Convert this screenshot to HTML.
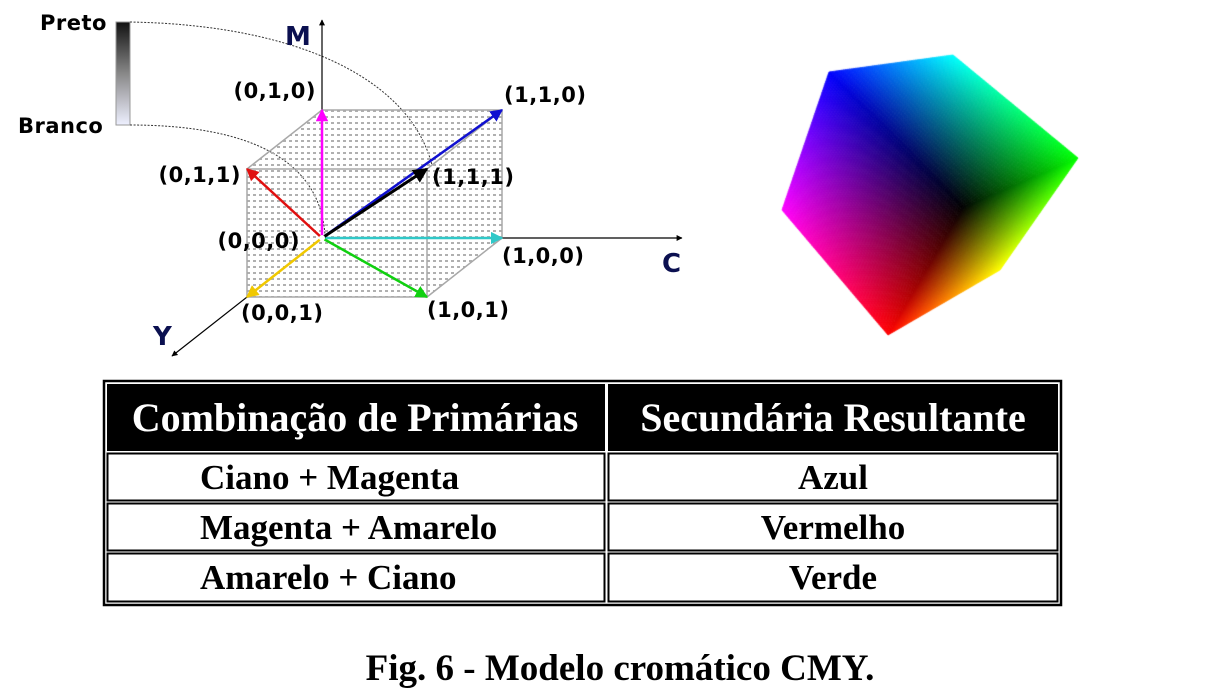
<!DOCTYPE html>
<html><head><meta charset="utf-8"><style>
html,body{margin:0;padding:0;background:#fff;}
svg{display:block;position:absolute;left:0;top:0;}
canvas{position:absolute;left:0;top:0;}
.lbl{font-family:"DejaVu Sans","Liberation Sans",sans-serif;font-weight:bold;font-size:21px;fill:#000;letter-spacing:0.5px;}
.ax{font-family:"DejaVu Sans","Liberation Sans",sans-serif;font-weight:bold;font-size:26px;fill:#0b1050;}
.th{font-family:"Liberation Serif",serif;font-weight:bold;font-size:40px;fill:#fff;}
.td{font-family:"Liberation Serif",serif;font-weight:bold;font-size:35px;fill:#000;}
</style></head><body>
<div style="position:relative;width:1209px;height:697px;overflow:hidden">
<canvas id="cv" width="1209" height="697"></canvas>
<svg id="fig" width="1209" height="697" viewBox="0 0 1209 697" xmlns="http://www.w3.org/2000/svg">
<defs>
<pattern id="dots" width="6" height="6" patternUnits="userSpaceOnUse"><rect x="1" y="2" width="3" height="2" fill="#b0b0b0"/></pattern>
<linearGradient id="gbar" x1="0" y1="0" x2="0" y2="1"><stop offset="0" stop-color="#111"/><stop offset="0.5" stop-color="#888"/><stop offset="1" stop-color="#eef0ff"/></linearGradient>
<marker id="ah" viewBox="0 0 10 10" refX="9" refY="5" markerWidth="5" markerHeight="5" orient="auto-start-reverse"><path d="M0,0 L10,5 L0,10 z" fill="context-stroke"/></marker>
</defs>

<rect x="116" y="22" width="14" height="103" fill="url(#gbar)" stroke="#999" stroke-width="1"/>
<text class="lbl" x="40" y="30">Preto</text>
<text class="lbl" x="18" y="133">Branco</text>
<path d="M130,22 C300,25 410,80 432,165" fill="none" stroke="#333" stroke-width="1" stroke-dasharray="2,1.5"/>
<path d="M130,125 C250,125 320,160 325,235" fill="none" stroke="#333" stroke-width="1" stroke-dasharray="2,1.5"/>

<g id="cube3d"></g>

<g>
<rect x="104" y="381" width="957" height="224" fill="none" stroke="#000" stroke-width="2.5"/>
<rect x="107" y="384" width="498" height="67" fill="#000"/>
<rect x="608" y="384" width="450" height="67" fill="#000"/>
<text class="th" x="355" y="431" text-anchor="middle">Combinação de Primárias</text>
<text class="th" x="833" y="431" text-anchor="middle">Secundária Resultante</text>
<rect x="107.5" y="453.5" width="497" height="47" fill="none" stroke="#000" stroke-width="2"/>
<rect x="608.5" y="453.5" width="449" height="47" fill="none" stroke="#000" stroke-width="2"/>
<rect x="107.5" y="503.5" width="497" height="47" fill="none" stroke="#000" stroke-width="2"/>
<rect x="608.5" y="503.5" width="449" height="47" fill="none" stroke="#000" stroke-width="2"/>
<rect x="107.5" y="553.5" width="497" height="48" fill="none" stroke="#000" stroke-width="2"/>
<rect x="608.5" y="553.5" width="449" height="48" fill="none" stroke="#000" stroke-width="2"/>
<text class="td" x="200" y="489">Ciano + Magenta</text>
<text class="td" x="833" y="489" text-anchor="middle">Azul</text>
<text class="td" x="200" y="539">Magenta + Amarelo</text>
<text class="td" x="833" y="539" text-anchor="middle">Vermelho</text>
<text class="td" x="200" y="589">Amarelo + Ciano</text>
<text class="td" x="833" y="589" text-anchor="middle">Verde</text>
</g>
<text x="620" y="680" text-anchor="middle" style="font-family:'Liberation Serif',serif;font-weight:bold;font-size:37px">Fig. 6 - Modelo cromático CMY.</text>
</svg>
</div>
<script>
const vertexLabels=["(0,0,0)","(1,0,0)","(0,1,0)","(0,0,1)","(1,1,0)","(1,0,1)","(0,1,1)","(1,1,1)"];
const vertexC=[0,1,0,0,1,1,0,1];
const vertexM=[0,0,1,0,1,0,1,1];
const vertexY=[0,0,0,1,0,1,1,1];
const arrowColors=["#000","#30c8c8","#ff00ff","#f0c800","#1010d0","#10d010","#e01010","#000"];
const labelDx=[-22,0,-6,-6,2,0,-6,5];
const labelDy=[10,25,-12,23,-8,20,13,15];
const labelAnchor=["end","start","end","start","start","start","end","start"];

const NS="http://www.w3.org/2000/svg";
const O={x:322,y:238};
function px(c,m,y){return O.x+180*c-75*y;}
function py(c,m,y){return O.y-128*m+59*y;}
const g=document.getElementById('cube3d');
function mk(t,a){const e=document.createElementNS(NS,t);for(const k in a)e.setAttribute(k,a[k]);g.appendChild(e);return e;}
const poly=mk('polygon',{points:[[0,1,0],[1,1,0],[1,0,0],[1,0,1],[0,0,1],[0,1,1]].map(v=>px(...v)+','+py(...v)).join(' '),fill:'url(#dots)'});


const edges=[[[0,0,0],[1,0,0]],[[0,0,0],[0,1,0]],[[0,0,0],[0,0,1]],[[1,0,0],[1,1,0]],[[1,0,0],[1,0,1]],[[0,1,0],[1,1,0]],[[0,1,0],[0,1,1]],[[0,0,1],[1,0,1]],[[0,0,1],[0,1,1]],[[1,1,0],[1,1,1]],[[1,0,1],[1,1,1]],[[0,1,1],[1,1,1]]];
edges.forEach(e=>{const l=mk('line',{x1:px(...e[0]),y1:py(...e[0]),x2:px(...e[1]),y2:py(...e[1]),stroke:'#a8a8a8','stroke-width':1.5});

});
const axM=mk('line',{x1:O.x,y1:O.y,x2:O.x,y2:20,stroke:'#000','stroke-width':1.2,'marker-end':'url(#ah)'});


const axC=mk('line',{x1:O.x,y1:O.y,x2:682,y2:O.y,stroke:'#000','stroke-width':1.2,'marker-end':'url(#ah)'});


const axY=mk('line',{x1:O.x,y1:O.y,x2:172,y2:356,stroke:'#000','stroke-width':1.2,'marker-end':'url(#ah)'});


[["M",285,45],["C",662,272],["Y",153,345]].forEach(a=>{const t=mk('text',{x:a[1],y:a[2],class:'ax'});t.textContent=a[0];

});
for(let i=0;i<vertexLabels.length;i++){
  const x=px(vertexC[i],vertexM[i],vertexY[i]),y=py(vertexC[i],vertexM[i],vertexY[i]);
  if(i>0){const a=mk('line',{x1:O.x,y1:O.y,x2:x,y2:y,stroke:arrowColors[i],'stroke-width':i==7?3:2.5,'marker-end':'url(#ah)'});
  
  }
  const t=mk('text',{x:x+labelDx[i],y:y+labelDy[i],class:'lbl','text-anchor':labelAnchor[i]});
  t.textContent=vertexLabels[i];
  
  
}
const oc=mk('circle',{cx:O.x,cy:O.y,r:3,fill:'#fff'});



// rendered RGB cube via bilinear grid
const cv=document.getElementById('cv').getContext('2d');
const K=[963,207],B=[829,72],Cy=[953,55],G=[1078,158],Yl=[1000,270],R=[888,335],Mg=[782,210];
const faces=[
 [K,B,Cy,G,[0,0,0],[0,0,255],[0,255,255],[0,255,0]],
 [K,B,Mg,R,[0,0,0],[0,0,255],[255,0,255],[255,0,0]],
 [K,G,Yl,R,[0,0,0],[0,255,0],[255,255,0],[255,0,0]]];
function bl(p0,p1,p2,p3,u,v){ // p0 at (0,0), p1 (1,0), p2 (1,1), p3 (0,1)
  return p0.map((_,k)=>p0[k]*(1-u)*(1-v)+p1[k]*u*(1-v)+p2[k]*u*v+p3[k]*(1-u)*v);}
const N=60;
faces.forEach(f=>{
  for(let i=0;i<N;i++)for(let j=0;j<N;j++){
    const u0=i/N,u1=(i+1)/N,v0=j/N,v1=(j+1)/N;
    const a=bl(f[0],f[1],f[2],f[3],u0,v0),b=bl(f[0],f[1],f[2],f[3],u1,v0),c=bl(f[0],f[1],f[2],f[3],u1,v1),d=bl(f[0],f[1],f[2],f[3],u0,v1);
    const col=bl(f[4],f[5],f[6],f[7],(u0+u1)/2,(v0+v1)/2).map(Math.round);
    cv.fillStyle='rgb('+col.join(',')+')';cv.strokeStyle=cv.fillStyle;cv.lineWidth=0.8;
    cv.beginPath();cv.moveTo(a[0],a[1]);cv.lineTo(b[0],b[1]);cv.lineTo(c[0],c[1]);cv.lineTo(d[0],d[1]);cv.closePath();cv.fill();cv.stroke();
  }
});
</script>
</body></html>
